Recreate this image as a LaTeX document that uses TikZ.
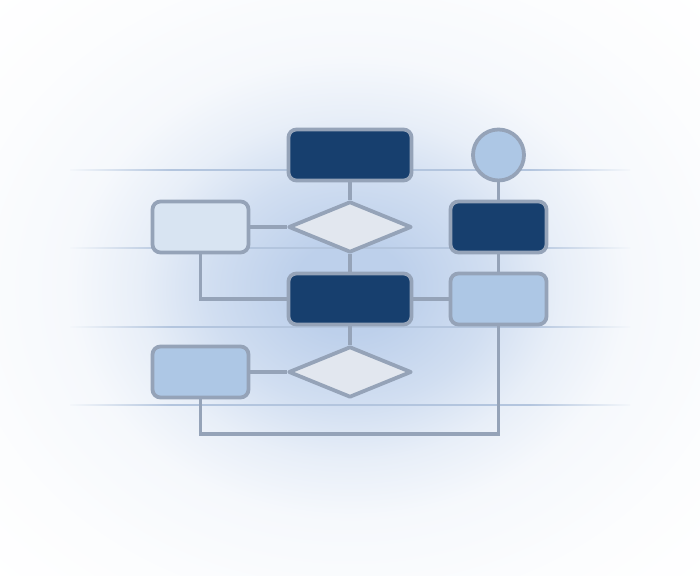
\documentclass[tikz,border=0pt]{standalone}
\usetikzlibrary{shapes.geometric}

\definecolor{fundo}{HTML}{BDD0EB}
\definecolor{escuro}{HTML}{173F6E}
\definecolor{claro}{HTML}{D8E4F2}
\definecolor{medio}{HTML}{ADC7E5}
\definecolor{losfill}{HTML}{E2E7EF}
\definecolor{borda}{HTML}{95A3B8}
\definecolor{guia}{HTML}{B3C5DE}
\definecolor{ponta}{HTML}{F4F7FB}

% fundo com brilho no meio
\pgfdeclareradialshading{fundorad}{\pgfpoint{0bp}{0bp}}{color(0bp)=(fundo); color(4bp)=(fundo); color(10bp)=(fundo!70!white); color(15bp)=(fundo!35!white); color(20bp)=(fundo!14!white); color(28bp)=(fundo!5!white); color(36bp)=(white); color(50bp)=(white)}
% linha guia que some nas pontas
\pgfdeclarehorizontalshading{guiafade}{2bp}{color(0bp)=(ponta); color(25bp)=(ponta); color(34bp)=(guia); color(66bp)=(guia); color(75bp)=(ponta); color(100bp)=(ponta)}

\tikzset{
	caixa/.style={draw=borda, line width=2.7pt, rounded corners=0.2cm, inner sep=0pt, minimum height=1.275cm},
	larga/.style={caixa, minimum width=3.075cm},
	curta/.style={caixa, minimum width=2.4cm},
	losango/.style={draw=borda, fill=losfill, line width=2.7pt, line join=round, diamond, inner sep=0pt, minimum width=3.075cm, minimum height=1.275cm},
	bola/.style={draw=borda, fill=medio, line width=2.7pt, circle, inner sep=0pt, minimum size=1.275cm},
	liga/.style={draw=borda, line width=2.5pt}
}

\begin{document}
\begin{tikzpicture}[x=0.025cm,y=-0.025cm]
	
	\useasboundingbox (0,0) rectangle (700,576);
	
	% Fundo
	\shade[shading=fundorad] (0,0) rectangle (700,576);
	
	% linhas guia
	\foreach \y in {170,248,327,405}
		\shade[shading=guiafade] (70,\y-1.1) rectangle (630,\y+1.1);
	
	% Caixas
	\node[larga, fill=escuro] (topo) at (350,155) {};
	\node[bola] (circulo) at (498.5,155) {};
	\node[curta, fill=claro] (esq1) at (200.5,227) {};
	\node[losango] (los1) at (350,227) {};
	\node[curta, fill=escuro] (dir1) at (498.5,227) {};
	\node[larga, fill=escuro] (meio) at (350,299) {};
	\node[curta, fill=medio] (dir2) at (498.5,299) {};
	\node[curta, fill=medio] (esq2) at (200.5,372) {};
	\node[losango] (los2) at (350,372) {};
	
	\coordinate (base) at (350,434);
	
	% Ligacoes
	\draw[liga] (topo) -- (los1);
	\draw[liga] (los1.west) -- (esq1.east);
	\draw[liga] (esq1.south) |- (meio.west);
	\draw[liga] (los1.south) -- (meio.north);
	\draw[liga] (meio.east) -- (dir2.west);
	\draw[liga] (circulo.south) -- (dir1.north);
	\draw[liga] (dir1.south) -- (dir2.north);
	\draw[liga] (meio.south) -- (los2.north);
	\draw[liga] (los2.west) -- (esq2.east);
	\draw[liga] (esq2.south) |- (base) -| (dir2.south);
	
\end{tikzpicture}
\end{document}
